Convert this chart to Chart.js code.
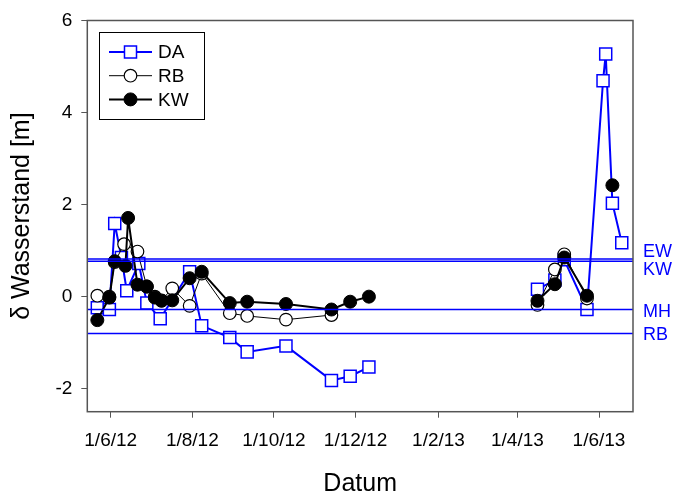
<!DOCTYPE html>
<html>
<head>
<meta charset="utf-8">
<script src="https://cdn.jsdelivr.net/npm/chart.js@4/dist/chart.umd.min.js"></script>
<style>
  html, body { margin: 0; padding: 0; background: #fff; }
</style>
</head>
<body>
<canvas id="chart" width="673" height="493"></canvas>
<script>
// ---- data ----
const daDates = ["2012-05-22","2012-05-31","2012-06-04","2012-06-09","2012-06-13","2012-06-22","2012-06-28","2012-07-08","2012-07-30","2012-08-08","2012-08-29","2012-09-11","2012-10-10","2012-11-13","2012-11-27","2012-12-11","2013-02-15","2013-04-16","2013-04-29","2013-05-06","2013-05-23","2013-06-04","2013-06-06","2013-06-11","2013-06-18"];
const daValues = [-0.24,-0.28,1.59,0.85,0.13,0.72,-0.14,-0.48,0.54,-0.63,-0.89,-1.20,-1.07,-1.82,-1.73,-1.53,null,0.16,0.36,0.80,-0.28,4.69,5.27,2.03,1.17];

const rbDates = ["2012-05-22","2012-05-31","2012-06-04","2012-06-11","2012-06-21","2012-06-28","2012-07-04","2012-07-09","2012-07-17","2012-07-30","2012-08-08","2012-08-29","2012-09-11","2012-10-10","2012-11-13","2013-02-15","2013-04-16","2013-04-29","2013-05-06","2013-05-23"];
const rbValues = [0.02,0.00,0.75,1.14,0.98,0.22,0.00,-0.08,0.18,-0.20,0.50,-0.36,-0.42,-0.50,-0.40,null,-0.18,0.59,0.92,-0.04];

const kwDates = ["2012-05-22","2012-05-31","2012-06-04","2012-06-12","2012-06-14","2012-06-21","2012-06-28","2012-07-04","2012-07-09","2012-07-17","2012-07-30","2012-08-08","2012-08-29","2012-09-11","2012-10-10","2012-11-13","2012-11-27","2012-12-11","2013-02-15","2013-04-16","2013-04-29","2013-05-06","2013-05-23","2013-06-01","2013-06-11"];
const kwValues = [-0.51,-0.02,0.77,0.67,1.71,0.26,0.22,-0.02,-0.09,-0.08,0.40,0.54,-0.14,-0.11,-0.16,-0.28,-0.11,0.00,null,-0.09,0.27,0.85,0.02,null,2.42];

// reference levels (horizontal lines) and their names
const refValues = [0.82, 0.77, -0.28, -0.80];
const refNames = ["EW", "KW", "MH", "RB"];

const xTickDates = ["2012-06-01","2012-08-01","2012-10-01","2012-12-01","2013-02-01","2013-04-01","2013-06-01"];
const xTickLabels = ["1/6/12","1/8/12","1/10/12","1/12/12","1/2/13","1/4/13","1/6/13"];
const yTicks = [-2, 0, 2, 4, 6];

const seriesNames = ["DA", "RB", "KW"];

// days since 1 Jun 2012 (chart.js has no date adapter here)
const BASE = Date.UTC(2012, 5, 1);
function dayOf(s) {
  const [y, m, d] = s.split("-").map(Number);
  return (Date.UTC(y, m - 1, d) - BASE) / 86400000;
}
function toPoints(dates, values) {
  return dates.map((d, i) => ({ x: dayOf(d), y: values[i] }));
}

const BLUE = "#0000ff";
const FONT = "'Liberation Sans', Arial, sans-serif";

// legend box + reference lines + frame
const extras = {
  id: "extras",
  afterDatasetsDraw(chart) {
    const ctx = chart.ctx;
    const a = chart.chartArea;
    const y = chart.scales.y;

    // horizontal reference lines
    ctx.save();
    ctx.strokeStyle = BLUE;
    ctx.lineWidth = 1.5;
    refValues.forEach(v => {
      const py = y.getPixelForValue(v);
      ctx.beginPath();
      ctx.moveTo(a.left, py);
      ctx.lineTo(a.right, py);
      ctx.stroke();
    });
    // labels on the right
    ctx.fillStyle = BLUE;
    ctx.font = "18px " + FONT;
    ctx.textBaseline = "middle";
    ctx.textAlign = "left";
    const shift = { EW: -7, KW: 9, MH: 3, RB: 2 };
    refValues.forEach((v, i) => {
      const py = y.getPixelForValue(v) + shift[refNames[i]];
      ctx.fillText(refNames[i], a.right + 10, py);
    });

    // frame
    ctx.strokeStyle = "#555";
    ctx.lineWidth = 1.5;
    ctx.strokeRect(a.left, a.top, a.right - a.left, a.bottom - a.top);

    // legend
    const bx = 99, by = 32, bw = 105, bh = 87;
    ctx.fillStyle = "#fff";
    ctx.fillRect(bx, by, bw, bh);
    ctx.strokeStyle = "#000";
    ctx.lineWidth = 1;
    ctx.strokeRect(bx + 0.5, by + 0.5, bw, bh);

    chart.data.datasets.forEach((ds, i) => {
      const ly = 52 + i * 23.7;
      ctx.strokeStyle = ds.borderColor;
      ctx.lineWidth = ds.borderWidth;
      ctx.beginPath();
      ctx.moveTo(109, ly);
      ctx.lineTo(152, ly);
      ctx.stroke();
      ctx.fillStyle = ds.pointBackgroundColor;
      ctx.strokeStyle = ds.pointBorderColor;
      ctx.lineWidth = ds.pointBorderWidth;
      ctx.beginPath();
      if (ds.pointStyle === "rect") {
        const s = ds.pointRadius * Math.SQRT1_2;
        ctx.rect(130.5 - s, ly - s, 2 * s, 2 * s);
      } else {
        ctx.arc(130.5, ly, ds.pointRadius, 0, Math.PI * 2);
      }
      ctx.fill();
      ctx.stroke();
      ctx.fillStyle = "#000";
      ctx.font = "19px " + FONT;
      ctx.textBaseline = "middle";
      ctx.fillText(ds.label, 158, ly + 1);
    });
    ctx.restore();
  }
};

new Chart(document.getElementById("chart"), {
  type: "line",
  data: {
    datasets: [
      {
        label: seriesNames[0],
        data: toPoints(daDates, daValues),
        borderColor: BLUE,
        borderWidth: 2,
        pointStyle: "rect",
        pointRadius: 8.5,
        pointBackgroundColor: "#fff",
        pointBorderColor: BLUE,
        pointBorderWidth: 1.5,
        order: 3
      },
      {
        label: seriesNames[1],
        data: toPoints(rbDates, rbValues),
        borderColor: "#000",
        borderWidth: 1,
        pointStyle: "circle",
        pointRadius: 6.3,
        pointBackgroundColor: "#fff",
        pointBorderColor: "#000",
        pointBorderWidth: 1.2,
        order: 2
      },
      {
        label: seriesNames[2],
        data: toPoints(kwDates, kwValues),
        borderColor: "#000",
        borderWidth: 2,
        pointStyle: "circle",
        pointRadius: 6.5,
        pointBackgroundColor: "#000",
        pointBorderColor: "#000",
        pointBorderWidth: 1,
        order: 1
      }
    ]
  },
  options: {
    responsive: false,
    animation: false,
    spanGaps: false,
    elements: { line: { tension: 0 } },
    layout: { padding: { left: 0, right: 40, top: 20.5, bottom: 0 } },
    plugins: { legend: { display: false }, tooltip: { enabled: false } },
    scales: {
      x: {
        type: "linear",
        min: dayOf("2012-05-14") + 0.5,
        max: dayOf("2013-06-26") + 0.4,
        afterBuildTicks: s => { s.ticks = xTickDates.map(d => ({ value: dayOf(d) })); },
        afterFit: s => { s.height = 81.3; },
        border: { display: false },
        grid: { drawOnChartArea: false, drawTicks: true, tickLength: 6, color: "#555" },
        ticks: {
          autoSkip: false, maxRotation: 0, padding: 12, color: "#000",
          font: { family: FONT, size: 19 },
          callback: (v, i) => xTickLabels[i]
        },
        title: {
          display: true, text: "Datum", color: "#000",
          font: { family: FONT, size: 25, lineHeight: 1 },
          padding: { top: 0, bottom: -4 }
        }
      },
      y: {
        min: -2.5,
        max: 6,
        afterBuildTicks: s => { s.ticks = yTicks.map(v => ({ value: v })); },
        afterFit: s => { s.width = 87.3; },
        border: { display: false },
        grid: { drawOnChartArea: false, drawTicks: true, tickLength: 6, color: "#555" },
        ticks: {
          padding: 9, color: "#000",
          font: { family: FONT, size: 19 },
          callback: v => String(v)
        },
        title: {
          display: true, text: "δ Wasserstand [m]", color: "#000",
          font: { family: FONT, size: 25, lineHeight: 1 },
          padding: { top: 10, bottom: 0 }
        }
      }
    }
  },
  plugins: [extras]
});
</script>
</body>
</html>
